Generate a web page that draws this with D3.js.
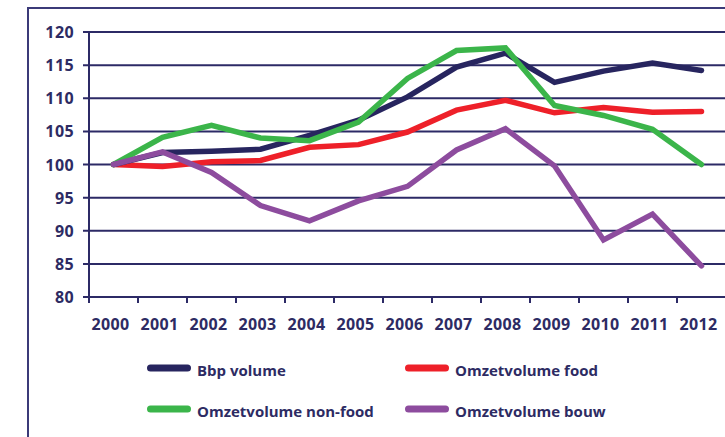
<!DOCTYPE html>
<html>
<head>
<meta charset="utf-8">
<script src="https://cdn.jsdelivr.net/npm/d3@7"></script>
<style>
  body { margin: 0; background: #fff; }
  svg { display: block; }
  .tick-label { font-family: "Open Sans", sans-serif; font-weight: 700; font-size: 16px; fill: #2d2b63; letter-spacing: 0.4px; }
  .legend-label { font-family: "Open Sans", sans-serif; font-weight: 700; font-size: 15px; fill: #2d2b63; }
</style>
</head>
<body>
<div class="graph"></div>
<script>
const years = ["2000","2001","2002","2003","2004","2005","2006","2007","2008","2009","2010","2011","2012"];
const yTicks = [80, 85, 90, 95, 100, 105, 110, 115, 120];

const bbpVolume      = [100, 101.8, 102.0, 102.3, 104.4, 106.7, 110.2, 114.7, 116.8, 112.4, 114.1, 115.3, 114.2];
const omzetFood      = [100, 99.7, 100.4, 100.6, 102.6, 103.0, 104.9, 108.2, 109.7, 107.8, 108.6, 107.9, 108.0];
const omzetNonFood   = [100, 104.1, 105.9, 104.0, 103.6, 106.4, 113.0, 117.2, 117.6, 108.9, 107.4, 105.3, 100.0];
const omzetBouw      = [100, 101.9, 98.8, 93.8, 91.5, 94.5, 96.7, 102.2, 105.4, 99.8, 88.6, 92.5, 84.7];

const seriesNames  = ["Bbp volume", "Omzetvolume food", "Omzetvolume non-food", "Omzetvolume bouw"];
const seriesColors = ["#27255f", "#ee2029", "#3bb54a", "#8d4c9e"];
const seriesValues = [bbpVolume, omzetFood, omzetNonFood, omzetBouw];
// drawing order: food at bottom, bouw on top
const drawOrder = [1, 0, 2, 3];

const width = 725;
const height = 437;
const ink = "#2c2a66";

const canvas = d3.select(".graph")
  .append("svg")
  .attr("width", width)
  .attr("height", height);

// outer frame
canvas.append("path")
  .attr("d", `M28,${height} V8 H${width}`)
  .attr("fill", "none")
  .attr("stroke", "#3b3a78")
  .attr("stroke-width", 2);

const x = d3.scaleBand()
  .domain(years)
  .range([89, 726]);

const y = d3.scaleLinear()
  .domain([80, 120])
  .range([297, 32]);

// horizontal grid
canvas.append("g")
  .selectAll("line")
  .data(yTicks)
  .enter().append("line")
  .attr("x1", 83)
  .attr("x2", width)
  .attr("y1", d => y(d))
  .attr("y2", d => y(d))
  .attr("stroke", ink)
  .attr("stroke-width", 2);

// y axis line
canvas.append("line")
  .attr("x1", 89).attr("x2", 89)
  .attr("y1", y(120) - 1).attr("y2", y(80) + 6)
  .attr("stroke", ink)
  .attr("stroke-width", 2);

// x ticks at band edges
const edges = years.map(d => x(d)).concat([x.range()[1]]);
canvas.append("g")
  .selectAll("line")
  .data(edges.slice(1))
  .enter().append("line")
  .attr("x1", d => d).attr("x2", d => d)
  .attr("y1", y(80)).attr("y2", y(80) + 6)
  .attr("stroke", ink)
  .attr("stroke-width", 2);

// y labels
canvas.append("g")
  .selectAll("text")
  .data(yTicks)
  .enter().append("text")
  .attr("class", "tick-label")
  .attr("x", 74)
  .attr("y", d => y(d) + 6)
  .attr("text-anchor", "end")
  .text(d => d);

// x labels
canvas.append("g")
  .selectAll("text")
  .data(years)
  .enter().append("text")
  .attr("class", "tick-label")
  .attr("x", d => x(d) + x.bandwidth() / 2 - 3)
  .attr("y", 330)
  .attr("text-anchor", "middle")
  .text(d => d);

// lines
const line = d3.line()
  .x((d, i) => x(years[i]) + x.bandwidth() / 2)
  .y(d => y(d));

canvas.append("g")
  .selectAll("path")
  .data(drawOrder)
  .enter().append("path")
  .attr("d", i => line(seriesValues[i]))
  .attr("fill", "none")
  .attr("stroke", i => seriesColors[i])
  .attr("stroke-width", 5.5)
  .attr("stroke-linecap", "round")
  .attr("stroke-linejoin", "miter");

// legend
const legendPos = [[147, 368], [405, 368], [147, 409], [405, 409]];
const legend = canvas.append("g")
  .selectAll("g")
  .data(seriesNames)
  .enter().append("g")
  .attr("transform", (d, i) => `translate(${legendPos[i][0]},${legendPos[i][1]})`);

legend.append("line")
  .attr("x1", 3.5).attr("x2", 40.5)
  .attr("y1", 0).attr("y2", 0)
  .attr("stroke", (d, i) => seriesColors[i])
  .attr("stroke-width", 7)
  .attr("stroke-linecap", "round");

legend.append("text")
  .attr("class", "legend-label")
  .attr("x", 50)
  .attr("y", 8)
  .text(d => d);
</script>
</body>
</html>
